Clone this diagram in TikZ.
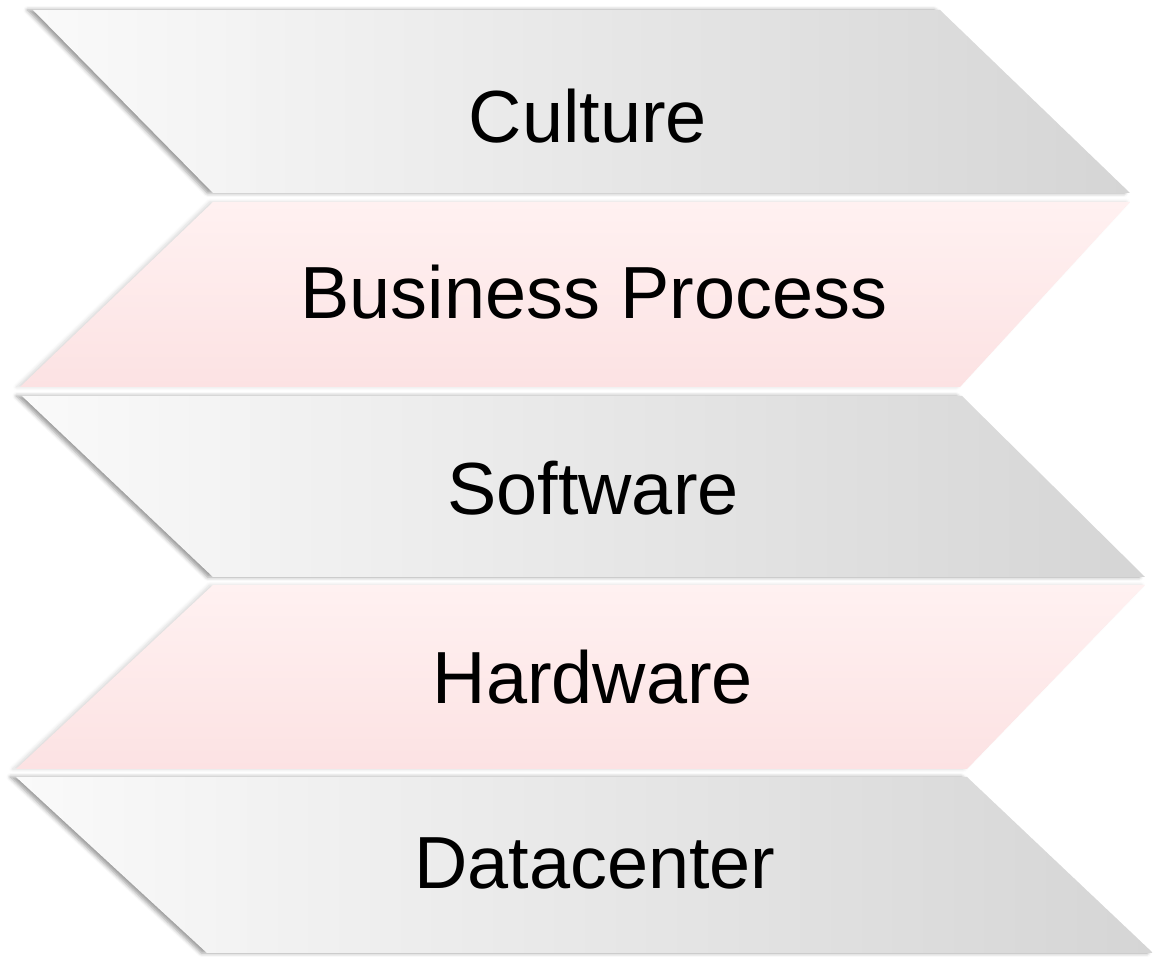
\documentclass[tikz,border=0pt]{standalone}
\usepackage{fontspec}
\setmainfont{Liberation Sans}
\usetikzlibrary{shadows.blur}
\definecolor{bandgreyL}{HTML}{FAFAFA}
\definecolor{bandgreyM}{HTML}{EAEAEA}
\definecolor{bandgreyR}{HTML}{D5D5D5}
\definecolor{bandpinkT}{HTML}{FFF1F1}
\definecolor{bandpinkB}{HTML}{FCE2E3}
\begin{document}
\begin{tikzpicture}[x=0.01cm,y=-0.01cm,
  edgeshadow/.style={blur shadow={shadow xshift=-1.6pt, shadow yshift=0pt,
      shadow blur radius=1.1pt, shadow opacity=40}},
  greyband/.style={left color=bandgreyL, middle color=bandgreyM,
      right color=bandgreyR, edgeshadow},
  pinkband/.style={top color=bandpinkT, bottom color=bandpinkB,
      blur shadow={shadow xshift=-1pt, shadow yshift=0pt,
      shadow blur radius=1pt, shadow opacity=15}},
  layerlabel/.style={font=\fontsize{21}{25}\selectfont, anchor=base, inner sep=0pt}]
  \useasboundingbox (0,0) rectangle (1153,964);

  % slanted layer bands, alternating direction
  \path[greyband] (33,10)  -- (940,10)  -- (1130,193) -- (213,193) -- cycle;
  \path[pinkband] (213,202) -- (1130,202) -- (960,387) -- (20,387) -- cycle;
  \path[greyband] (22,396) -- (962,396) -- (1145,577) -- (213,577) -- cycle;
  \path[pinkband] (213,585) -- (1145,585) -- (967,769) -- (16,769) -- cycle;
  \path[greyband] (16,777) -- (967,777) -- (1153,953) -- (207,953) -- cycle;

  % layer names
  \node[layerlabel] (culture)  at (588,143) {Culture};
  \node[layerlabel] (business) at (594,319) {Business Process};
  \node[layerlabel] (software) at (593,515) {Software};
  \node[layerlabel] (hardware) at (593,704) {Hardware};
  \node[layerlabel] (datacenter) at (595,889) {Datacenter};
\end{tikzpicture}
\end{document}
